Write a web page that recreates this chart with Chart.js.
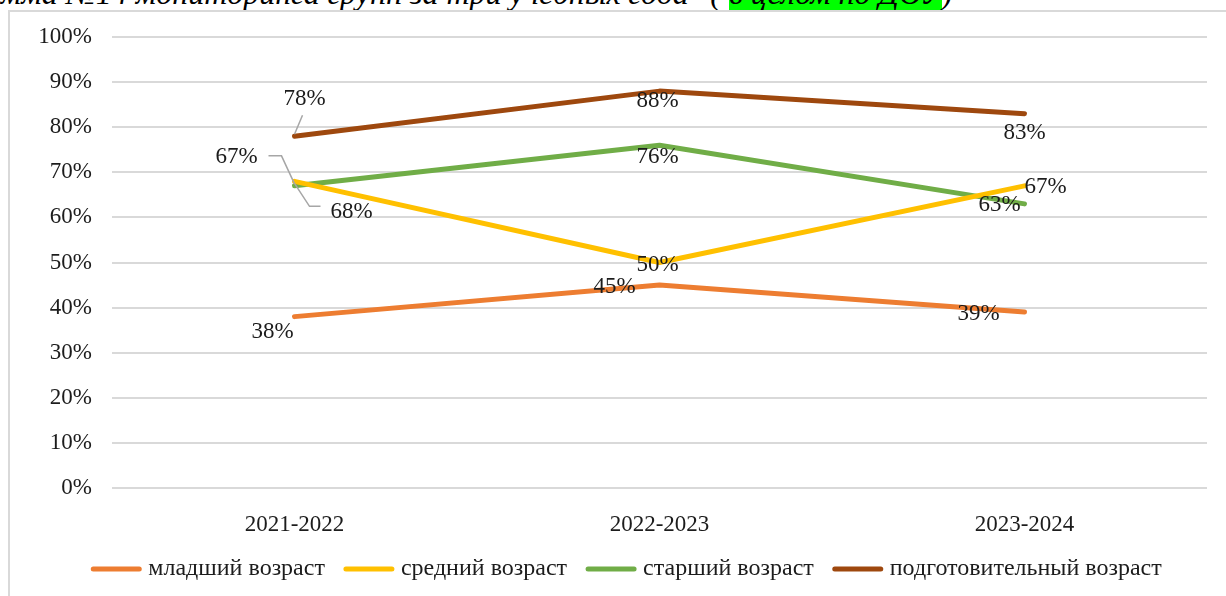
<!DOCTYPE html>
<html lang="ru">
<head>
<meta charset="utf-8">
<script src="https://cdn.jsdelivr.net/npm/chart.js@4.4.1/dist/chart.umd.min.js"></script>
<style>
  html, body { margin: 0; padding: 0; background: #fff; overflow: hidden; }
  #wrap { position: relative; width: 1226px; height: 596px; overflow: hidden; }
  #title {
    position: absolute; left: -96px; top: -23px; white-space: nowrap;
    font: italic 32px "Liberation Serif", serif; line-height: 32px; color: #000;
  }
  #title .hl { background: #00ff00; }
  #frame {
    position: absolute; left: 8px; top: 10px; right: -4px; bottom: -4px;
    border: 2px solid #d9d9d9;
  }
  #chart { position: absolute; left: 0; top: 0; }
</style>
</head>
<body>
<div id="wrap">
  <div id="title">Диаграмма №14 мониторинга групп за три учебных года" ( <span class="hl">в целом по ДОУ</span>)</div>
  <div id="frame"></div>
  <canvas id="chart" width="1226" height="596"></canvas>
</div>
<script>
// --- данные диаграммы ---
const years = ['2021-2022', '2022-2023', '2023-2024'];
const seriesNames = ['младший возраст', 'средний возраст', 'старший возраст', 'подготовительный возраст'];
const mladshiy = [38, 45, 39];
const sredniy = [68, 50, 67];
const starshiy = [67, 76, 63];
const podgot = [78, 88, 83];
const yTicks = [0, 10, 20, 30, 40, 50, 60, 70, 80, 90, 100];

const colors = ['#ED7D31', '#FFC000', '#70AD47', '#9E480E'];
const FONT = '"Liberation Serif", "Times New Roman", serif';
const TEXT = '#1c1c1c';

// смещения подписей относительно точки (px) и выноски
const labelStyle = [
  [{ dx: -22, dy: 15 }, { dx: -45, dy: 2 }, { dx: -46, dy: 2 }],
  [{ dx: 57, dy: 31, leader: [[26, 25], [15, 25], [0, 2]] }, { dx: -2, dy: 2 }, { dx: 21, dy: 1 }],
  [{ dx: -58, dy: -29, leader: [[-26, -30], [-13, -30], [0, -2]] }, { dx: -2, dy: 12 }, { dx: -25, dy: 1 }],
  [{ dx: 10, dy: -37, leader: [[8, -21], [0, -2]] }, { dx: -2, dy: 10 }, { dx: 0, dy: 19 }]
];

const dataLabels = {
  id: 'dataLabels',
  afterDatasetsDraw(chart) {
    const ctx = chart.ctx;
    ctx.save();
    chart.data.datasets.forEach((ds, i) => {
      const meta = chart.getDatasetMeta(i);
      meta.data.forEach((pt, j) => {
        const st = labelStyle[i][j];
        if (st.leader) {
          ctx.strokeStyle = '#a6a6a6';
          ctx.lineWidth = 1.5;
          ctx.beginPath();
          st.leader.forEach((p, k) => {
            if (k === 0) ctx.moveTo(pt.x + p[0], pt.y + p[1]);
            else ctx.lineTo(pt.x + p[0], pt.y + p[1]);
          });
          ctx.stroke();
        }
        ctx.fillStyle = TEXT;
        ctx.font = '23px ' + FONT;
        ctx.textAlign = 'center';
        ctx.textBaseline = 'middle';
        ctx.fillText(ds.data[j] + '%', pt.x + st.dx, pt.y + st.dy);
      });
    });
    ctx.restore();
  }
};

// легенда снизу, рисуем сами (короткий зазор между линией и текстом)
const bottomLegend = {
  id: 'bottomLegend',
  afterDraw(chart) {
    const ctx = chart.ctx;
    const lineW = 52, gap = 6, itemGap = 18, y = 569;
    ctx.save();
    ctx.font = '24px ' + FONT;
    const items = chart.data.datasets.map(ds => ({ ds, w: ctx.measureText(ds.label).width }));
    const total = items.reduce((s, it) => s + lineW + gap + it.w, 0) + itemGap * (items.length - 1);
    let x = 626 - total / 2;
    items.forEach(it => {
      ctx.strokeStyle = it.ds.borderColor;
      ctx.lineWidth = 5;
      ctx.lineCap = 'round';
      ctx.beginPath();
      ctx.moveTo(x + 3, y);
      ctx.lineTo(x + lineW - 3, y);
      ctx.stroke();
      ctx.fillStyle = TEXT;
      ctx.textAlign = 'left';
      ctx.textBaseline = 'middle';
      ctx.fillText(it.ds.label, x + lineW + gap, y);
      x += lineW + gap + it.w + itemGap;
    });
    ctx.restore();
  }
};

const seriesData = [mladshiy, sredniy, starshiy, podgot];

new Chart(document.getElementById('chart'), {
  type: 'line',
  data: {
    labels: years,
    datasets: seriesData.map((d, i) => ({
      label: seriesNames[i],
      data: d,
      borderColor: colors[i],
      backgroundColor: colors[i],
      borderWidth: 5,
      borderCapStyle: 'round',
      borderJoinStyle: 'round',
      pointRadius: 0,
      tension: 0
    }))
  },
  options: {
    responsive: false,
    animation: false,
    layout: { padding: { left: 0, right: 19, top: 37, bottom: 0 } },
    plugins: {
      legend: { display: false },
      tooltip: { enabled: false }
    },
    scales: {
      x: {
        offset: true,
        grid: { display: false, offset: true },
        border: { display: false },
        ticks: { color: TEXT, font: { family: FONT, size: 23 }, padding: 15 },
        afterFit(scale) { scale.height = 108; }
      },
      y: {
        min: 0,
        max: 100,
        afterBuildTicks(scale) { scale.ticks = yTicks.map(v => ({ value: v })); },
        grid: { color: '#d9d9d9', lineWidth: 2, drawTicks: false },
        border: { display: false },
        ticks: {
          color: TEXT,
          font: { family: FONT, size: 23 },
          padding: 20,
          callback: v => v + '%'
        },
        afterFit(scale) { scale.width = 112; }
      }
    }
  },
  plugins: [dataLabels, bottomLegend]
});
</script>
</body>
</html>
